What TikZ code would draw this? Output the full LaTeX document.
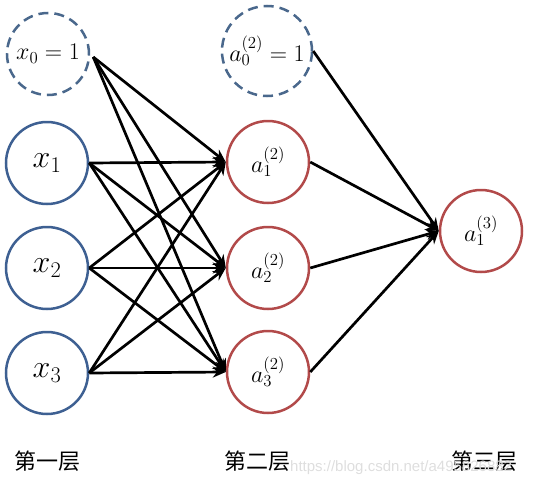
\RequirePackage{fix-cm}
\documentclass[tikz,border=0pt]{standalone}
\usepackage{fontspec}
\newfontfamily\cjk{Noto Sans CJK SC}
\newfontfamily\wmfont{Liberation Sans}
\usetikzlibrary{arrows.meta}
\definecolor{inblue}{RGB}{62,96,146}
\definecolor{dashblue}{RGB}{74,104,140}
\definecolor{hidred}{RGB}{178,74,74}
\begin{document}
\begin{tikzpicture}[x=1pt,y=-1pt,
  neuron/.style={circle,line width=2.5pt,minimum size=82pt,inner sep=0pt},
  inneuron/.style={neuron,draw=inblue,font=\fontsize{32}{36}\selectfont},
  biasneuron/.style={neuron,draw=dashblue,dash pattern=on 10pt off 6pt,font=\fontsize{24}{28}\selectfont},
  hidneuron/.style={neuron,draw=hidred,font=\fontsize{24}{28}\selectfont},
  conn/.style={line width=2.7pt,-{Stealth[length=13pt,width=11pt]}},
  layerlabel/.style={font=\cjk\fontsize{22}{26}\selectfont,inner sep=0pt},
  wm/.style={font=\wmfont\fontsize{15}{18}\selectfont,text=black!13,inner sep=0pt,anchor=west}]
\useasboundingbox (0,0) rectangle (547,490);
\node[biasneuron] (x0) at (48,54) {$x_0=1$};
\node[inneuron] (x1) at (47,163) {$x_1$};
\node[inneuron] (x2) at (47,268) {$x_2$};
\node[inneuron] (x3) at (47,373) {$x_3$};
\node[biasneuron,minimum size=90pt] (a0) at (267,51) {$a_0^{(2)}=1$};
\node[hidneuron] (a1) at (268,162) {$a_1^{(2)}$};
\node[hidneuron] (a2) at (268,268) {$a_2^{(2)}$};
\node[hidneuron] (a3) at (268,372) {$a_3^{(2)}$};
\node[hidneuron] (b1) at (481,231) {$a_1^{(3)}$};
\foreach \t in {a1,a2,a3}{
  \draw[conn] ([xshift=3pt,yshift=-3pt]x0.east) -- (\t.west);
}
\foreach \s in {x1,x2,x3}{
  \foreach \t in {a1,a2,a3}{
    \draw[conn] (\s.east) -- (\t.west);
  }
}
\foreach \s in {a0,a1,a2,a3}{
  \draw[conn] (\s.east) -- (b1.west);
}
\node[layerlabel] (l1) at (48,461) {第一层};
\node[layerlabel] (l2) at (257,461) {第二层};
\node[layerlabel] (l3) at (484,461) {第三层};
\node[wm] (wmark) at (290,468) {https://blog.csdn.net/a495826882};
\end{tikzpicture}
\end{document}
